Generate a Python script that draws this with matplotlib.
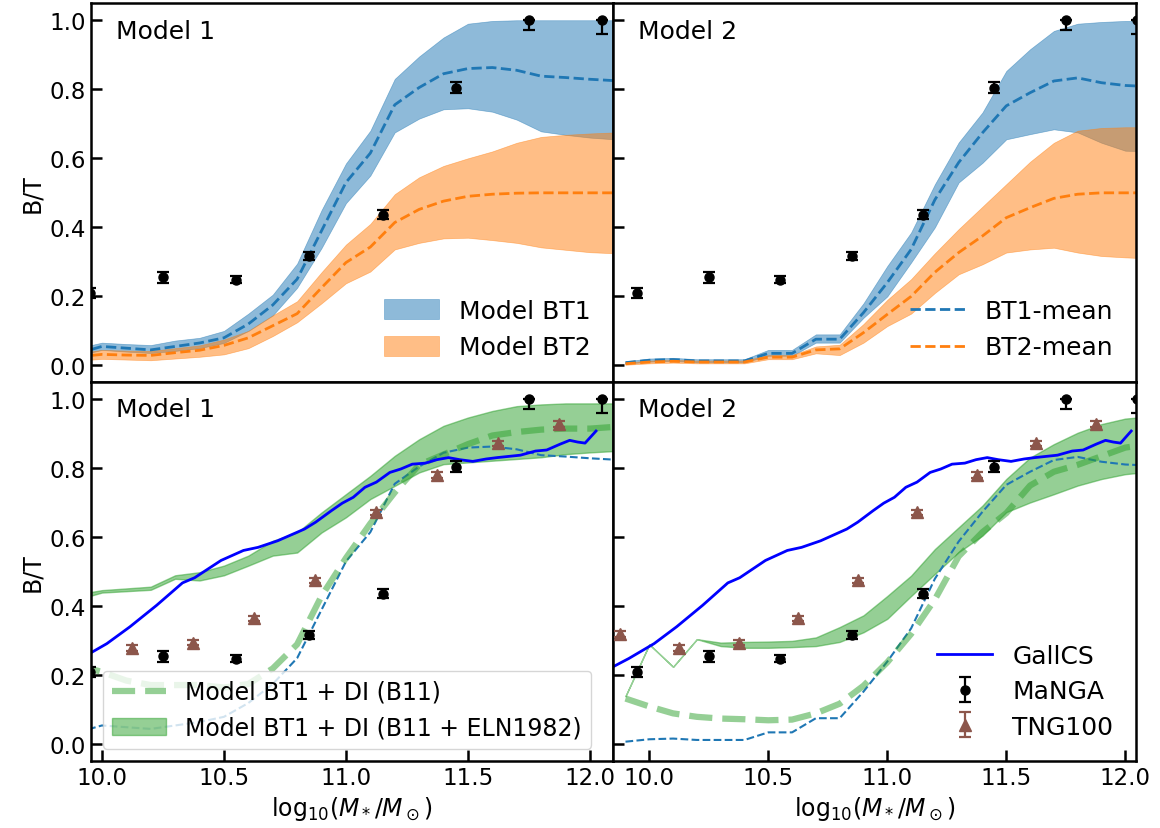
import matplotlib
matplotlib.use("Agg")
import matplotlib.pyplot as plt

plt.rcParams["font.family"] = ["DejaVu Sans"]
plt.rcParams["mathtext.fontset"] = "dejavusans"

# model grid (log stellar mass)
mass_grid = [9.9, 10.0, 10.1, 10.2, 10.3, 10.4, 10.5, 10.6, 10.7, 10.8, 10.9, 11.0,
             11.1, 11.2, 11.3, 11.4, 11.5, 11.6, 11.7, 11.8, 11.9, 12.0, 12.1]

# Model 1
m1_bt1_mean = [0.035, 0.055, 0.050, 0.045, 0.055, 0.065, 0.080, 0.120, 0.175, 0.250, 0.390, 0.530,
               0.615, 0.755, 0.805, 0.845, 0.860, 0.863, 0.855, 0.838, 0.834, 0.829, 0.825]
m1_bt1_hi = [0.050, 0.066, 0.062, 0.059, 0.072, 0.080, 0.100, 0.150, 0.205, 0.295, 0.450, 0.585,
             0.680, 0.830, 0.895, 0.950, 0.990, 0.998, 1.000, 1.000, 1.000, 1.000, 1.000]
m1_bt1_lo = [0.028, 0.045, 0.040, 0.036, 0.042, 0.050, 0.065, 0.100, 0.145, 0.225, 0.340, 0.470,
             0.550, 0.675, 0.715, 0.742, 0.745, 0.735, 0.712, 0.678, 0.668, 0.660, 0.655]
m1_bt2_mean = [0.025, 0.032, 0.030, 0.029, 0.037, 0.044, 0.058, 0.080, 0.115, 0.150, 0.225, 0.298,
               0.343, 0.414, 0.452, 0.476, 0.490, 0.496, 0.499, 0.500, 0.500, 0.500, 0.500]
m1_bt2_hi = [0.035, 0.045, 0.043, 0.042, 0.050, 0.058, 0.075, 0.100, 0.145, 0.186, 0.270, 0.350,
             0.410, 0.496, 0.545, 0.578, 0.600, 0.620, 0.645, 0.662, 0.668, 0.672, 0.675]
m1_bt2_lo = [0.014, 0.019, 0.017, 0.015, 0.020, 0.025, 0.032, 0.050, 0.085, 0.125, 0.180, 0.238,
             0.272, 0.336, 0.355, 0.368, 0.370, 0.363, 0.355, 0.342, 0.335, 0.328, 0.325]
m1_di_b11 = [0.230, 0.210, 0.185, 0.172, 0.172, 0.172, 0.165, 0.175, 0.220, 0.290, 0.430, 0.540,
             0.640, 0.730, 0.810, 0.840, 0.870, 0.895, 0.905, 0.912, 0.915, 0.915, 0.920]
m1_di_eln_hi = [0.435, 0.447, 0.452, 0.457, 0.490, 0.499, 0.518, 0.547, 0.590, 0.614, 0.672, 0.725,
                0.778, 0.836, 0.884, 0.923, 0.947, 0.966, 0.980, 0.985, 0.988, 0.988, 0.988]
m1_di_eln_lo = [0.420, 0.440, 0.444, 0.448, 0.480, 0.475, 0.490, 0.518, 0.547, 0.556, 0.614, 0.658,
                0.711, 0.749, 0.788, 0.812, 0.817, 0.822, 0.827, 0.832, 0.841, 0.846, 0.850]

# Model 2
m2_bt1_mean = [0.008, 0.015, 0.017, 0.013, 0.013, 0.013, 0.035, 0.035, 0.076, 0.076, 0.153, 0.240,
               0.336, 0.480, 0.588, 0.674, 0.752, 0.790, 0.824, 0.833, 0.819, 0.811, 0.808]
m2_bt1_hi = [0.012, 0.020, 0.022, 0.018, 0.018, 0.018, 0.045, 0.045, 0.090, 0.090, 0.180, 0.288,
             0.385, 0.525, 0.646, 0.733, 0.853, 0.916, 0.969, 0.990, 0.995, 0.998, 0.998]
m2_bt1_lo = [0.005, 0.011, 0.013, 0.009, 0.009, 0.009, 0.028, 0.028, 0.066, 0.066, 0.138, 0.200,
             0.298, 0.400, 0.530, 0.587, 0.655, 0.670, 0.684, 0.675, 0.645, 0.622, 0.620]
m2_bt2_mean = [0.005, 0.010, 0.012, 0.010, 0.010, 0.010, 0.024, 0.024, 0.045, 0.048, 0.095, 0.148,
               0.200, 0.270, 0.327, 0.375, 0.428, 0.457, 0.484, 0.496, 0.500, 0.500, 0.500]
m2_bt2_hi = [0.008, 0.014, 0.016, 0.014, 0.014, 0.014, 0.030, 0.030, 0.055, 0.060, 0.120, 0.190,
             0.250, 0.325, 0.395, 0.460, 0.525, 0.590, 0.645, 0.680, 0.688, 0.690, 0.690]
m2_bt2_lo = [0.002, 0.006, 0.008, 0.006, 0.006, 0.006, 0.018, 0.018, 0.035, 0.030, 0.066, 0.114,
             0.150, 0.210, 0.264, 0.293, 0.327, 0.336, 0.341, 0.327, 0.317, 0.313, 0.310]
m2_di_b11 = [0.133, 0.110, 0.090, 0.080, 0.075, 0.073, 0.070, 0.072, 0.090, 0.118, 0.170, 0.238,
             0.320, 0.420, 0.545, 0.615, 0.670, 0.750, 0.790, 0.810, 0.835, 0.860, 0.870]
m2_di_eln_hi = [0.140, 0.290, 0.225, 0.305, 0.295, 0.297, 0.298, 0.300, 0.310, 0.340, 0.374, 0.430,
                0.489, 0.566, 0.629, 0.692, 0.769, 0.831, 0.870, 0.903, 0.928, 0.944, 0.950]
m2_di_eln_lo = [0.140, 0.290, 0.225, 0.305, 0.285, 0.280, 0.280, 0.282, 0.285, 0.297, 0.325, 0.364,
                0.430, 0.494, 0.557, 0.605, 0.673, 0.701, 0.725, 0.750, 0.769, 0.783, 0.790]

# observations / simulations
gallcs_x = [9.82, 9.914, 10.02, 10.115, 10.224, 10.33, 10.38, 10.488, 10.58, 10.64, 10.72, 10.83,
            10.876, 10.94, 10.985, 11.03, 11.078, 11.125, 11.18, 11.225, 11.272, 11.326, 11.373,
            11.42, 11.466, 11.52, 11.575, 11.62, 11.715, 11.777, 11.823, 11.878, 11.917, 11.95,
            11.98, 12.025]
gallcs_y = [0.215, 0.249, 0.292, 0.341, 0.403, 0.468, 0.483, 0.533, 0.562, 0.571, 0.590, 0.624,
            0.644, 0.677, 0.699, 0.716, 0.745, 0.760, 0.788, 0.798, 0.812, 0.815, 0.825,
            0.831, 0.825, 0.820, 0.827, 0.831, 0.838, 0.850, 0.853, 0.870, 0.881, 0.876,
            0.873, 0.908]

manga_x = [9.95, 10.25, 10.55, 10.85, 11.15, 11.45, 11.75, 12.05]
manga_y = [0.210, 0.255, 0.248, 0.318, 0.437, 0.805, 1.000, 1.000]
manga_err_lo = [0.015, 0.015, 0.010, 0.012, 0.014, 0.015, 0.028, 0.040]
manga_err_hi = [0.015, 0.015, 0.010, 0.012, 0.014, 0.015, 0.000, 0.000]

tng_x = [9.875, 10.125, 10.375, 10.625, 10.875, 11.125, 11.375, 11.625, 11.875]
tng_y = [0.320, 0.280, 0.295, 0.365, 0.475, 0.672, 0.780, 0.872, 0.928]
tng_err = [0.008, 0.008, 0.008, 0.008, 0.008, 0.008, 0.008, 0.008, 0.008]

FS = 18
LABEL_FS = 17
TICK_FS = 16.5

fig, axes = plt.subplots(2, 2, figsize=(11.6, 8.29), dpi=100)
fig.subplots_adjust(left=0.0782, right=0.9793, top=0.9952, bottom=0.0808, wspace=0, hspace=0)

models = [
    (m1_bt1_mean, m1_bt1_hi, m1_bt1_lo, m1_bt2_mean, m1_bt2_hi, m1_bt2_lo, m1_di_b11, m1_di_eln_hi, m1_di_eln_lo),
    (m2_bt1_mean, m2_bt1_hi, m2_bt1_lo, m2_bt2_mean, m2_bt2_hi, m2_bt2_lo, m2_di_b11, m2_di_eln_hi, m2_di_eln_lo),
]
xlims = [(9.954, 12.096), (9.849, 12.045)]

for col in range(2):
    bt1_mean, bt1_hi, bt1_lo, bt2_mean, bt2_hi, bt2_lo, di_b11, eln_hi, eln_lo = models[col]

    # top row: BT1 / BT2 bands
    ax = axes[0, col]
    ax.fill_between(mass_grid, bt1_lo, bt1_hi, color="C0", alpha=0.5, lw=0.5, label="Model BT1")
    ax.fill_between(mass_grid, bt2_lo, bt2_hi, color="C1", alpha=0.5, lw=0.5, label="Model BT2")
    ax.plot(mass_grid, bt1_mean, "--", color="C0", lw=2, label="BT1-mean")
    ax.plot(mass_grid, bt2_mean, "--", color="C1", lw=2, label="BT2-mean")
    ax.errorbar(manga_x, manga_y, yerr=[manga_err_lo, manga_err_hi], fmt="o", color="k",
                ms=6.5, capsize=4, elinewidth=1.6, capthick=1.6, zorder=5)
    h, l = ax.get_legend_handles_labels()
    if col == 0:
        ax.legend(h[0:2], l[0:2], loc="lower right", frameon=False, fontsize=FS,
                  handlelength=2.2, handleheight=0.85)
    else:
        ax.legend(h[2:4], l[2:4], loc="lower right", frameon=False, fontsize=FS,
                  handlelength=2.2)
    ax.text(0.048, 0.925, f"Model {col + 1}", transform=ax.transAxes, fontsize=FS, va="center")

    # bottom row: disk instability variants
    ax = axes[1, col]
    ax.plot(mass_grid, bt1_mean, "--", color="C0", lw=1.5)
    ax.plot(mass_grid, di_b11, "--", color="C2", alpha=0.5, lw=4.5, label="Model BT1 + DI (B11)")
    ax.fill_between(mass_grid, eln_lo, eln_hi, color="C2", alpha=0.5, lw=1,
                    label="Model BT1 + DI (B11 + ELN1982)")
    ax.plot(gallcs_x, gallcs_y, "-", color="blue", lw=2, label="GallCS")
    ax.errorbar(manga_x, manga_y, yerr=[manga_err_lo, manga_err_hi], fmt="o", color="k",
                ms=6.5, capsize=4, elinewidth=1.6, capthick=1.6, zorder=5, label="MaNGA")
    ax.errorbar(tng_x, tng_y, yerr=tng_err, fmt="^", color="C5", ms=8.5, capsize=4,
                elinewidth=1.6, capthick=1.6, zorder=5, label="TNG100")
    h, l = ax.get_legend_handles_labels()
    if col == 0:
        ax.legend(h[:2], l[:2], loc="lower left", fontsize=17, handlelength=2.3,
                  borderaxespad=0.5)
    else:
        ax.legend(h[2:], l[2:], loc="lower right", frameon=False, fontsize=FS,
                  handlelength=2.2, labelspacing=0.45)
    ax.text(0.048, 0.928, f"Model {col + 1}", transform=ax.transAxes, fontsize=FS, va="center")
    ax.set_xlabel(r"log$_{10}(M_*/M_\odot)$", fontsize=LABEL_FS)

for (r, c), ax in zip([(0, 0), (0, 1), (1, 0), (1, 1)], axes.flat):
    ax.set_xlim(*xlims[c])
    ax.set_ylim(-0.048, 1.05)
    ax.set_xticks([10.0, 10.5, 11.0, 11.5, 12.0])
    ax.set_yticks([0.0, 0.2, 0.4, 0.6, 0.8, 1.0])
    ax.tick_params(direction="in", length=8, width=1.8, labelsize=TICK_FS, top=False, right=False)
    for sp in ax.spines.values():
        sp.set_linewidth(1.8)
    if r == 0:
        ax.tick_params(bottom=False, labelbottom=False)
    if c == 1:
        ax.tick_params(labelleft=False)
    else:
        ax.set_ylabel("B/T", fontsize=LABEL_FS)

fig.savefig("out.png", dpi=100)
